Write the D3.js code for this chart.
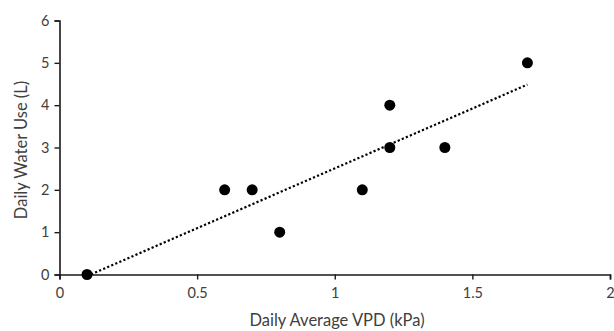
<!DOCTYPE html>
<html><head><meta charset="utf-8">
<script src="https://cdn.jsdelivr.net/npm/d3@7"></script>
<style>body{margin:0;background:#fff}svg{display:block}</style>
</head><body>
<svg id="c" width="614" height="331"></svg>
<script>
const vpd = [0.1, 0.6, 0.7, 0.8, 1.1, 1.2, 1.2, 1.4, 1.7];
const waterUse = [0, 2, 2, 1, 2, 4, 3, 3, 5];
const xTicks = [0, 0.5, 1, 1.5, 2];
const yTicks = [0, 1, 2, 3, 4, 5, 6];
const xTitle = "Daily Average VPD (kPa)";
const yTitle = "Daily Water Use (L)";

const svg = d3.select("#c");
const font = "Lato, 'Open Sans', sans-serif";
const x = d3.scaleLinear().domain([0, 2]).range([59.5, 610]);
const y = d3.scaleLinear().domain([0, 6]).range([274.5, 20.5]);
const axisColor = "#1a1a1a";

// y axis
const ya = svg.append("g").attr("transform", `translate(${x(0)},0)`)
  .call(d3.axisLeft(y).tickValues(yTicks).tickFormat(d3.format("d")).tickSizeOuter(0).tickSize(5).tickPadding(5));
// x axis
const xa = svg.append("g").attr("transform", `translate(0,${y(0)})`)
  .call(d3.axisBottom(x).tickValues(xTicks).tickFormat(d => d).tickSizeOuter(0).tickSize(5).tickPadding(8));
[ya, xa].forEach(a => {
  a.select(".domain").attr("stroke", axisColor).attr("stroke-width", 1.6);
  a.selectAll(".tick line").attr("stroke", axisColor).attr("stroke-width", 1.4);
  a.selectAll("text").attr("fill", "#404040").style("font-family", font).style("font-size", "14.5px");
});

// trendline (least squares)
const n = vpd.length;
const mx = d3.mean(vpd), my = d3.mean(waterUse);
let sxy = 0, sxx = 0;
for (let i = 0; i < n; i++) { sxy += (vpd[i]-mx)*(waterUse[i]-my); sxx += (vpd[i]-mx)**2; }
const slope = sxy / sxx, icpt = my - slope * mx;
const x0 = d3.min(vpd), x1 = d3.max(vpd);
svg.append("line")
  .attr("x1", x(x0)).attr("y1", y(slope*x0+icpt))
  .attr("x2", x(x1)).attr("y2", y(slope*x1+icpt))
  .attr("stroke", "#000").attr("stroke-width", 2.2).attr("stroke-dasharray", "2.2,2.2");

// points
svg.append("g").selectAll("circle").data(vpd).join("circle")
  .attr("cx", d => x(d)).attr("cy", (d, i) => y(waterUse[i])).attr("r", 5.5).attr("fill", "#000");

// titles
svg.append("text").attr("x", 337).attr("y", 326).attr("text-anchor", "middle")
  .attr("fill", "#404040").style("font-family", font).style("font-size", "16.5px").text(xTitle);
svg.append("text").attr("transform", "translate(27,150) rotate(-90)").attr("text-anchor", "middle")
  .attr("fill", "#404040").style("font-family", font).style("font-size", "16.5px").text(yTitle);
</script>
</body></html>
